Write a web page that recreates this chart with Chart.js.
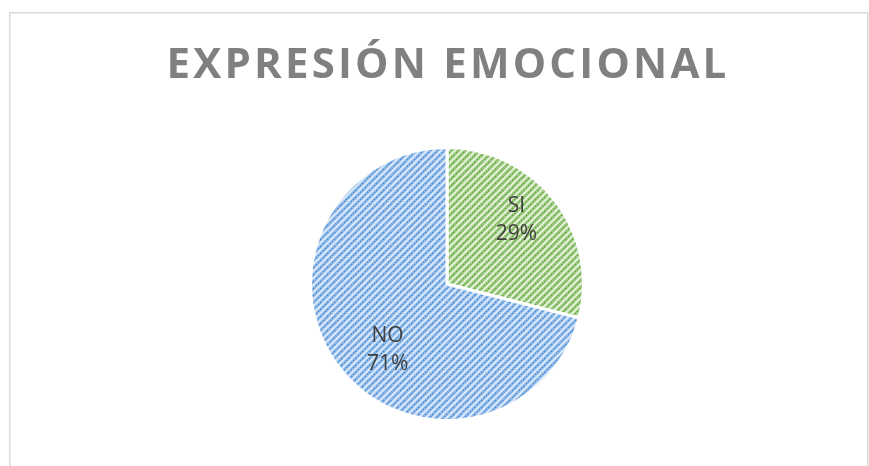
<!DOCTYPE html>
<html>
<head>
<meta charset="utf-8">
<script src="https://cdn.jsdelivr.net/npm/chart.js@4/dist/chart.umd.min.js"></script>
<style>
  html, body { margin: 0; padding: 0; background: #fff; }
  #wrap { width: 869px; height: 466px; position: relative; }
</style>
</head>
<body>
<div id="wrap"><canvas id="c" width="869" height="466"></canvas></div>
<script>
const titleText = 'EXPRESIÓN EMOCIONAL';
const categories = ['SI', 'NO'];
const values = [29, 71];
const percentLabels = ['29%', '71%'];

function makePattern(base, stripe, dot) {
  const s = 7;
  const c = document.createElement('canvas');
  c.width = s; c.height = s;
  const g = c.getContext('2d');
  g.fillStyle = base;
  g.fillRect(0, 0, s, s);
  function diag(color, w, dash) {
    g.strokeStyle = color;
    g.lineWidth = w;
    g.setLineDash(dash || []);
    for (const o of [-s, 0, s]) {
      g.beginPath();
      g.moveTo(o - 1, s + 1);
      g.lineTo(o + s + 1, -1);
      g.stroke();
    }
  }
  diag(stripe, 3.2);
  diag(dot, 1.6, [1.8, 1.0]);
  return g.createPattern(c, 'repeat');
}

const ctx0 = document.getElementById('c').getContext('2d');
const greenPat = makePattern('#e6f2de', '#acd393', '#64a83e');
const bluePat = makePattern('#dce9f8', '#a3c7ee', '#4a8bd6');

const framePlugin = {
  id: 'frame',
  beforeDraw(chart) {
    const ctx = chart.ctx;
    ctx.save();
    ctx.strokeStyle = '#d9d9d9';
    ctx.lineWidth = 1.5;
    ctx.strokeRect(9.75, 12.75, 858, 500);
    ctx.fillStyle = '#808080';
    ctx.font = 'bold 42px "Open Sans", Lato, sans-serif';
    ctx.textAlign = 'center';
    ctx.textBaseline = 'alphabetic';
    try { ctx.letterSpacing = '3.2px'; } catch (e) {}
    ctx.fillText(titleText, 448, 78);
    try { ctx.letterSpacing = '0px'; } catch (e) {}
    ctx.restore();
  }
};

const labelPlugin = {
  id: 'sliceLabels',
  afterDatasetsDraw(chart) {
    const ctx = chart.ctx;
    const meta = chart.getDatasetMeta(0);
    ctx.save();
    ctx.fillStyle = '#404040';
    ctx.font = '21px "Open Sans", Lato, sans-serif';
    ctx.textAlign = 'center';
    ctx.textBaseline = 'middle';
    meta.data.forEach((arc, i) => {
      const p = arc.getProps(['x', 'y', 'startAngle', 'endAngle', 'outerRadius'], true);
      const mid = (p.startAngle + p.endAngle) / 2 - 0.13;
      const r = p.outerRadius * 0.67;
      const x = p.x + Math.cos(mid) * r + 5;
      const y = p.y + Math.sin(mid) * r;
      ctx.fillText(categories[i], x, y - 13);
      ctx.fillText(percentLabels[i], x, y + 15);
    });
    ctx.restore();
  }
};

new Chart(ctx0, {
  type: 'pie',
  data: {
    labels: categories,
    datasets: [{
      data: values,
      backgroundColor: [greenPat, bluePat],
      borderColor: '#ffffff',
      borderWidth: 3
    }]
  },
  options: {
    responsive: false,
    animation: false,
    layout: { padding: { top: 146, bottom: 44, left: 297, right: 272 } },
    plugins: {
      legend: { display: false },
      title: { display: false },
      tooltip: { enabled: false }
    }
  },
  plugins: [framePlugin, labelPlugin]
});
</script>
</body>
</html>
